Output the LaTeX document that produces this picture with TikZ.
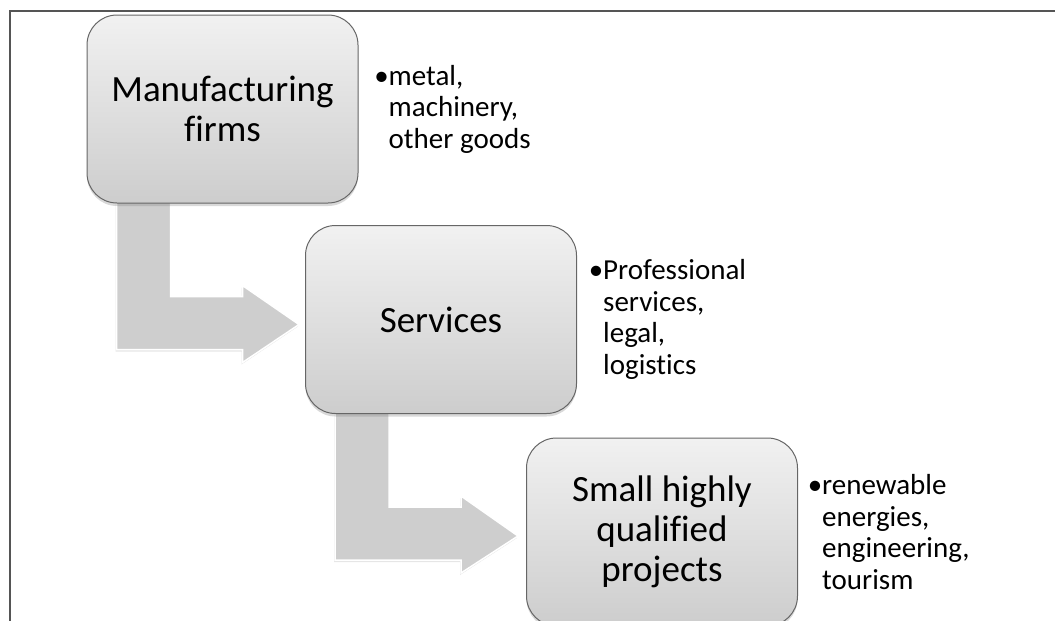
\documentclass[tikz,border=0pt]{standalone}
\usepackage{fontspec}
\setmainfont{Carlito}[Ligatures=NoCommon]
\usetikzlibrary{calc,shadows}
\definecolor{boxtop}{HTML}{F1F1F1}
\definecolor{boxbot}{HTML}{CDCDCD}
\definecolor{boxedge}{HTML}{666666}
\definecolor{arrowfill}{HTML}{CECECE}
\definecolor{framecol}{HTML}{555555}
\pgfdeclarelayer{bg}
\pgfsetlayers{bg,main}
\begin{document}
\begin{tikzpicture}[x=1pt,y=-1pt,
  box/.style={draw=boxedge, line width=1pt, rounded corners=30pt,
    minimum width=271pt, minimum height=188pt,
    top color=boxtop, bottom color=boxbot, align=center, inner sep=0pt,
    font=\fontsize{37}{40}\selectfont,
    drop shadow={opacity=0.3, shadow xshift=0pt, shadow yshift=-3pt}},
  side/.style={anchor=west, align=left, inner sep=0pt,
    font=\fontsize{29}{31.5}\selectfont},
  bendarrow/.style={fill=arrowfill, draw=white, line width=1.5pt, line join=miter,
    drop shadow={opacity=0.2, shadow xshift=-1pt, shadow yshift=-2pt}},
  frameline/.style={draw=framecol, line width=2pt}]
\useasboundingbox (0,0) rectangle (1055,621);
\coordinate (fa) at (10,625);
\coordinate (fb) at (10,10.5);
\coordinate (fc) at (1060,10.5);
\draw[frameline] (fa) -- (fb) -- (fc);

\node[box] (m) at (222.5,109) {Manufacturing\\firms};
\node[box] (s) at (441,319.5) {Services};
\node[box] (p) at (662,532) {Small highly\\qualified\\projects};

\node[side] (mt) at ([xshift=30pt]m.east) {\llap{\textbullet}metal,\\machinery,\\other goods};
\node[side] (st) at ([xshift=26pt]s.east) {\llap{\textbullet}Professional\\services,\\legal,\\logistics};
\node[side] (pt) at ([xshift=24pt]p.east) {\llap{\textbullet}renewable\\energies,\\engineering,\\tourism};

\begin{pgfonlayer}{bg}
\draw[bendarrow] ($(m.north west)+(30,150)$) -- ($(m.north west)+(30,335)$)
  -- ($(m.north west)+(156,335)$) -- ($(m.north west)+(156,348)$)
  -- ($(s.west)+(-6,5)$) -- ($(m.north west)+(156,271)$)
  -- ($(m.north west)+(156,282)$) -- ($(m.north west)+(84,282)$)
  -- ($(m.north west)+(84,150)$) -- cycle;
\draw[bendarrow] ($(s.north west)+(30,150)$) -- ($(s.north west)+(30,335)$)
  -- ($(s.north west)+(156,335)$) -- ($(s.north west)+(156,348)$)
  -- ($(p.west)+(-8,4)$) -- ($(s.north west)+(156,271)$)
  -- ($(s.north west)+(156,282)$) -- ($(s.north west)+(84,282)$)
  -- ($(s.north west)+(84,150)$) -- cycle;
\end{pgfonlayer}
\end{tikzpicture}
\end{document}
